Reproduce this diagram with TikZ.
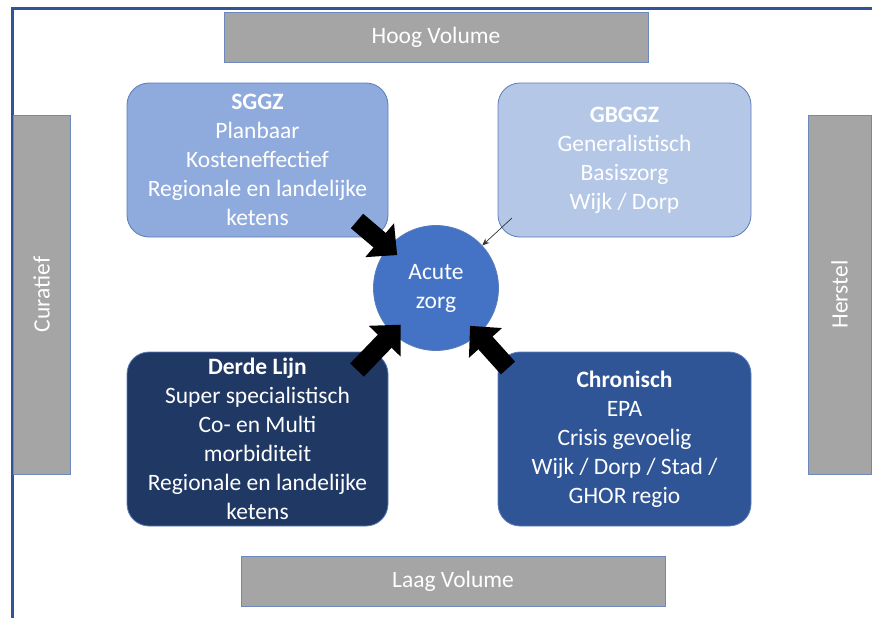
\documentclass[tikz,border=0pt]{standalone}
\usepackage{fontspec}
\setmainfont{Carlito}
\usetikzlibrary{arrows.meta}

\definecolor{kader}{HTML}{2F5597}
\definecolor{grijs}{HTML}{A5A5A5}
\definecolor{grijsrand}{HTML}{6C88BC}
\definecolor{sggzblauw}{HTML}{8FAADC}
\definecolor{gbggzblauw}{HTML}{B4C7E7}
\definecolor{derdeblauw}{HTML}{203864}
\definecolor{chronblauw}{HTML}{2F5597}
\definecolor{acuutblauw}{HTML}{4472C4}
\definecolor{rand}{HTML}{5B7DBA}

\tikzset{
  balk/.style={fill=grijs, draw=grijsrand, line width=.8pt, text=white, font=\fontsize{23.5}{28}\selectfont},
  kwadrant/.style={rounded corners=22pt, draw=rand, line width=.8pt, align=center, text=white, font=\fontsize{23.5}{29}\selectfont},
  blokpijl/.style={line width=19pt, black, -{Triangle[width=43pt,length=23pt]}, shorten >=-12pt},
}

\begin{document}
\begin{tikzpicture}[x=1pt, y=-1pt]
\useasboundingbox (0,0) rectangle (872,618);

%\draw[step=50, gray!40] (0,0) grid (872,618);

% kader
\draw[kader, line width=3pt] (12,618)--(12,9)--(873,9);

% balken
\node[balk, minimum width=424pt, minimum height=50pt] (hoog) at (436,37) {Hoog Volume};
\node[balk, minimum width=424pt, minimum height=50pt] (laag) at (453,581) {Laag Volume};
\node[balk, minimum width=57pt, minimum height=359pt] (curatief) at (41.5,294.5) {};
\node[rotate=90, text=white, font=\fontsize{23.5}{28}\selectfont] at (curatief.center) {Curatief};
\node[balk, minimum width=63pt, minimum height=359pt] (herstel) at (839.5,294.5) {};
\node[rotate=90, text=white, font=\fontsize{23.5}{28}\selectfont] at (herstel.center) {Herstel};

% kwadranten
\node[kwadrant, fill=sggzblauw, minimum width=261pt, minimum height=154pt] (sggz) at (257.5,160)
  {\textbf{SGGZ}\\Planbaar\\Kosteneffectief\\Regionale en landelijke\\ketens};
\node[kwadrant, fill=gbggzblauw, minimum width=253pt, minimum height=154pt] (gbggz) at (624.5,160)
  {\textbf{GBGGZ}\\Generalistisch\\Basiszorg\\Wijk / Dorp};
\node[kwadrant, fill=derdeblauw, minimum width=261pt, minimum height=174pt] (derde) at (257.5,439)
  {\textbf{Derde Lijn}\\Super specialistisch\\Co- en Multi\\morbiditeit\\Regionale en landelijke\\ketens};
\node[kwadrant, fill=chronblauw, minimum width=253pt, minimum height=174pt] (chron) at (624.5,439)
  {\textbf{Chronisch}\\EPA\\Crisis gevoelig\\Wijk / Dorp / Stad /\\GHOR regio};

% acute zorg
\node[circle, fill=acuutblauw, draw=rand, line width=.8pt, minimum size=125pt, inner sep=0pt, align=center, text=white,
  font=\fontsize{23.5}{29}\selectfont] (acute) at (436,288) {Acute\\zorg};

% pijlen
\coordinate (pijlA) at (357,221);
\coordinate (pijlB) at (357,370);
\coordinate (pijlC) at (508,368);
\coordinate (pijlD) at (512,218);
\draw[blokpijl] (pijlA)--(acute);
\draw[blokpijl] (pijlB)--(acute);
\draw[blokpijl] (pijlC)--(acute);
\draw[black!80, line width=.7pt, -{Stealth[length=7pt,width=6pt]}] (pijlD)--(acute);

\end{tikzpicture}
\end{document}
